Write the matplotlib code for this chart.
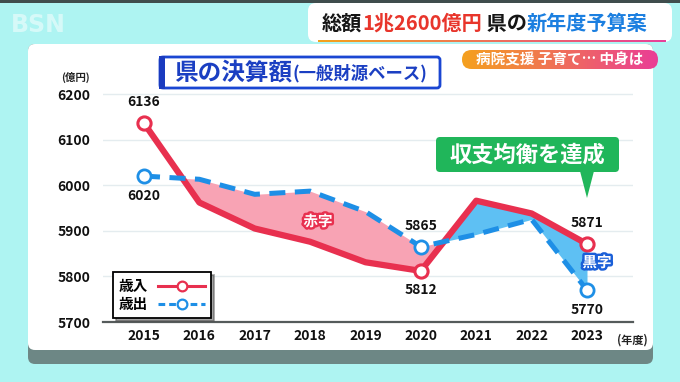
import matplotlib
matplotlib.use('Agg')
import matplotlib.pyplot as plt
import numpy as np
from matplotlib.patches import FancyBboxPatch, Polygon, Rectangle
from matplotlib.lines import Line2D
import matplotlib.patheffects as pe
from matplotlib.colors import LinearSegmentedColormap

plt.rcParams['font.family'] = ['Noto Sans CJK JP', 'DejaVu Sans']

# ---------------- data ----------------
years = [2015, 2016, 2017, 2018, 2019, 2020, 2021, 2022, 2023]
revenue = [6136, 5962, 5905, 5876, 5831, 5812, 5966, 5938, 5871]      # 歳入
expenditure = [6020, 6013, 5980, 5987, 5942, 5865, 5892, 5925, 5770]  # 歳出
series_names = ['歳入', '歳出']
yticks = [5700, 5800, 5900, 6000, 6100, 6200]
marked_idx = [0, 5, 8]
# labelled points: (series index, year index, 'above'/'below')
labelled = [(0, 0, 'above'), (1, 0, 'below'), (1, 5, 'above'),
            (0, 5, 'below'), (0, 8, 'above'), (1, 8, 'below')]
surplus_from_year = 2020

header_pieces = [('総額', '#151515'), ('1兆2600億円', '#e8352b'),
                 (' 県の', '#151515'), ('新年度予算案', '#1b7fe0')]
subtitle = '病院支援 子育て… 中身は'
chart_title_main = '県の決算額'
chart_title_sub = '(一般財源ベース)'
callout = '収支均衡を達成'
deficit_label = '赤字'
surplus_label = '黒字'
y_unit = '(億円)'
x_unit = '(年度)'

RED = '#e8304f'
BLUE = '#1e8fe6'
PINK = '#f8a3b4'
LBLUE = '#5ec0f3'

W, H = 680, 382
fig = plt.figure(figsize=(6.8, 3.82), dpi=100, facecolor='#aef4f2')

# ---------------- background layer (pixel coords) ----------------
bg = fig.add_axes([0, 0, 1, 1], zorder=0)
bg.set_xlim(0, W); bg.set_ylim(H, 0); bg.axis('off')
bg.add_patch(Rectangle((0, 0), W, 3, fc='#3f4d4d', ec='none'))
bg.add_patch(FancyBboxPatch((28, 44), 625, 320, boxstyle='round,pad=0,rounding_size=7',
                            fc='#6d8785', ec='none'))
bg.add_patch(FancyBboxPatch((28, 44), 625, 306, boxstyle='round,pad=0,rounding_size=7',
                            fc='white', ec='none'))
bg.text(38, 25, 'BSN', color='white', alpha=0.5, fontsize=17, fontweight='bold',
        ha='center', va='center', family=['DejaVu Sans'])

# ---------------- chart ----------------
px_per_unit = 0.456
ytop = 6220
ax_top_px = 322 - (ytop - 5700) * px_per_unit
ax = fig.add_axes([103 / W, 1 - 322 / H, 530 / W, (322 - ax_top_px) / H], zorder=1)
ax.patch.set_alpha(0)
x0 = 2015 - 41 / 55.375
x1 = 2023 + 46 / 55.375
ax.set_xlim(x0, x1)
ax.set_ylim(5700, ytop)

yr = np.array(years, dtype=float)
rv = np.array(revenue, dtype=float)
ex = np.array(expenditure, dtype=float)
ax.fill_between(yr, rv, ex, where=ex >= rv, interpolate=True, color=PINK, lw=0, zorder=1)
ax.fill_between(yr, rv, ex, where=(rv >= ex) & (yr >= surplus_from_year), interpolate=True,
                color=LBLUE, lw=0, zorder=1)

ax.plot(yr, rv, color=RED, lw=4.5, marker='o', ms=9.5, mfc='white', mec=RED, mew=2.2,
        markevery=marked_idx, zorder=3, solid_joinstyle='round')
ax.plot(yr, ex, color=BLUE, lw=3.6, ls=(0, (3.2, 1.9)), marker='o', ms=9.5, mfc='white',
        mec=BLUE, mew=2.0, markevery=marked_idx, zorder=4)

series = [revenue, expenditure]
for s, i, pos in labelled:
    v = series[s][i]
    off = 15 if pos == 'above' else -14
    ax.annotate(str(v), (years[i], v), xytext=(0, off), textcoords='offset points',
                ha='center', va='center', fontsize=10, fontweight='bold', color='#111',
                zorder=6)

ax.set_yticks(yticks)
ax.set_xticks(years)
ax.set_xticklabels([str(y) for y in years])
ax.grid(axis='y', color='#e4ecef', lw=1)
ax.set_axisbelow(True)
for sp in ['top', 'right', 'left']:
    ax.spines[sp].set_visible(False)
ax.spines['bottom'].set_color('#555b5b')
ax.spines['bottom'].set_linewidth(1.6)
ax.tick_params(axis='both', length=0, labelsize=10, colors='#111')
ax.tick_params(axis='y', pad=9)
ax.tick_params(axis='x', pad=5)
for lab in ax.get_xticklabels() + ax.get_yticklabels():
    lab.set_fontweight('bold')

handles = [Line2D([], [], color=RED, lw=2.2, marker='o', ms=7, mfc='white', mec=RED, mew=1.6),
           Line2D([], [], color=BLUE, lw=2.2, ls=(0, (2.2, 1.3)), marker='o', ms=7,
                  mfc='white', mec=BLUE, mew=1.6)]
leg = ax.legend(handles, series_names, markerfirst=False, loc='upper left',
                bbox_to_anchor=(113 / W, 1 - 272 / H), bbox_transform=fig.transFigure,
                frameon=True, fancybox=False, edgecolor='black', shadow=True,
                prop={'weight': 'bold', 'size': 10.5}, handlelength=3.2,
                borderpad=0.4, labelspacing=0.15, handletextpad=0.7, borderaxespad=0)
leg.get_frame().set_linewidth(1.3)
leg.set_zorder(7)

# ---------------- overlay layer ----------------
ov = fig.add_axes([0, 0, 1, 1], zorder=3)
ov.set_xlim(0, W); ov.set_ylim(H, 0); ov.axis('off')
ov.patch.set_alpha(0)

fig.canvas.draw()
renderer = fig.canvas.get_renderer()


def draw_pieces(x, y, pieces, size, weight='bold'):
    for txt, col, *rest in pieces:
        fs = rest[0] if rest else size
        t = ov.text(x, y, txt, color=col, fontsize=fs, fontweight=weight,
                    ha='left', va='center', zorder=10)
        bb = t.get_window_extent(renderer=renderer)
        x += bb.width
    return x


def gradient_fill(patch, extent, c1, c2):
    ov.add_patch(patch)
    cmap = LinearSegmentedColormap.from_list('g', [c1, c2])
    grad = np.linspace(0, 1, 256).reshape(1, -1)
    im = ov.imshow(grad, cmap=cmap, extent=extent, aspect='auto', zorder=patch.get_zorder())
    im.set_clip_path(patch)


# header
ov.add_patch(FancyBboxPatch((308, 3), 364, 39, boxstyle='round,pad=0,rounding_size=8',
                            fc='white', ec='none', zorder=2))
draw_pieces(322, 23, header_pieces, 14.5)
ul = Rectangle((318, 39.5), 348, 2.2, fc='none', ec='none', zorder=3)
gradient_fill(ul, [318, 666, 41.7, 39.5], '#f4a21c', '#e8409a')
ov.set_xlim(0, W); ov.set_ylim(H, 0)

# subtitle pill
pill = FancyBboxPatch((462, 50), 196, 19, boxstyle='round,pad=0,rounding_size=9.5',
                      fc='none', ec='none', zorder=3)
gradient_fill(pill, [462, 658, 69, 50], '#f5a11e', '#ea3d96')
ov.text(560, 59.5, subtitle, color='white', fontsize=10.5, fontweight='bold',
        ha='center', va='center', zorder=10)
ov.set_xlim(0, W); ov.set_ylim(H, 0)

# chart title box
ov.add_patch(FancyBboxPatch((160, 57), 280, 31, boxstyle='round,pad=0,rounding_size=3',
                            fc='white', ec='#1a46d2', lw=2, zorder=3))
ov.add_patch(Rectangle((159, 56), 6, 33, fc='#1a3bbf', ec='none', zorder=4))
xe = draw_pieces(174, 72.5, [(chart_title_main, '#1b3fc2', 17)], 17)
draw_pieces(xe, 73.5, [(chart_title_sub, '#1b3fc2', 12.5)], 12.5)

# green callout
ov.add_patch(FancyBboxPatch((436, 137), 183, 35, boxstyle='round,pad=0,rounding_size=4',
                            fc='#20b65a', ec='none', zorder=3))
ov.add_patch(Polygon([(580, 171), (594, 171), (587, 198)], closed=True,
                     fc='#20b65a', ec='none', zorder=3))
ov.text(527, 155, callout, color='white', fontsize=16, fontweight='bold',
        ha='center', va='center', zorder=10)

# deficit / surplus labels
ov.text(318, 221, deficit_label, color='white', fontsize=10.5, fontweight='bold',
        ha='center', va='center', zorder=10,
        path_effects=[pe.withStroke(linewidth=3.5, foreground=RED)])
ov.text(597, 262, surplus_label, color='white', fontsize=10.5, fontweight='bold',
        ha='center', va='center', zorder=10,
        path_effects=[pe.withStroke(linewidth=3.5, foreground='#1a5fd8')])

# units
ov.text(75, 77, y_unit, color='#222', fontsize=7.5, fontweight='bold',
        ha='center', va='center', zorder=10)
ov.text(632, 340, x_unit, color='#222', fontsize=8, fontweight='bold',
        ha='center', va='center', zorder=10)

fig.savefig('out.png', dpi=100, facecolor=fig.get_facecolor())
